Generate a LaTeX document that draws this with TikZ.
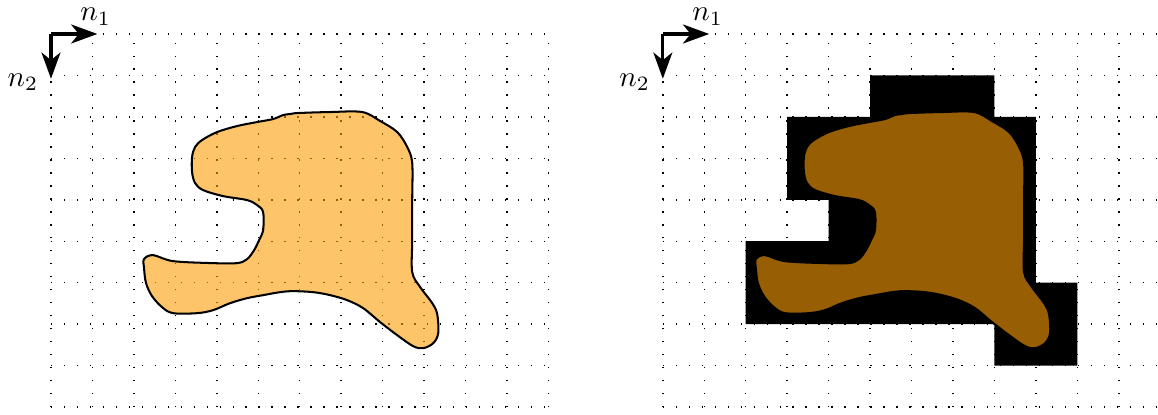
\documentclass[tikz,border=0pt]{standalone}
\usetikzlibrary{arrows.meta}
\definecolor{blobfill}{RGB}{252,157,7}
\tikzset{
  gridstyle/.style={line width=0.5pt, dash pattern=on 0.5pt off 3.95pt},
  axisarrow/.style={line width=1.1pt, -{Stealth[length=9pt,width=6.5pt,inset=2.6pt]}},
  blobstyle/.style={draw=black, line width=0.7pt, fill=blobfill, fill opacity=0.6},
  cellstyle/.style={fill=black},
}
\newcommand\blobshape{%
  plot[smooth cycle, tension=0.55] coordinates {
    (247,79) (279,78) (311,78) (329,87) (346,98) (356,113) (361,129)
    (361,166) (361,206) (361,238) (369,253) (381,269) (386,280) (387,299)
    (382,309) (372,314) (362,312) (346,301) (329,288) (312,274) (296,266)
    (279,261) (262,258) (242,257) (229,258) (212,261) (196,264) (179,269)
    (162,276) (146,279) (122,279) (111,273) (101,262) (95,249) (93,234)
    (93,225) (102,221) (122,227) (162,229) (186,229) (196,225) (203,216)
    (208,206) (212,196) (212,178) (206,171) (196,166) (172,162) (152,156)
    (144,149) (141,138) (141,123) (144,113) (151,106) (166,98) (186,92)
    (206,88) (222,85) (232,81) (239,80)}}
\begin{document}
\begin{tikzpicture}
\useasboundingbox (-0.615,-4.584) rectangle (13.353,0.41);
% ---------- left panel ----------
\begin{scope}
  \draw[gridstyle] (0,0) grid[step=0.5] (6,-4.5);
  \begin{scope}[x=0.012063cm, y=-0.012063cm]
    \path[blobstyle] \blobshape;
  \end{scope}
  \coordinate (lo) at (0,0);
  \coordinate (le1) at (0.56,0);
  \coordinate (le2) at (0,-0.54);
  \draw[axisarrow] (lo) -- (le1);
  \draw[axisarrow] (lo) -- (le2);
  \node (ln1) at (0.54,0.21) {$n_1$};
  \node (ln2) at (-0.34,-0.58) {$n_2$};
\end{scope}
% ---------- right panel ----------
\begin{scope}[shift={(7.38,0)}]
  \draw[gridstyle] (0,0) grid[step=0.5] (6,-4.5);
  \fill[cellstyle] (2.5,-0.5) -- (4.0,-0.5) -- (4.0,-1.0) -- (4.5,-1.0)
    -- (4.5,-3.0) -- (5.0,-3.0) -- (5.0,-4.0) -- (4.0,-4.0) -- (4.0,-3.5)
    -- (1.0,-3.5) -- (1.0,-2.5) -- (2.0,-2.5) -- (2.0,-2.0) -- (1.5,-2.0)
    -- (1.5,-1.0) -- (2.5,-1.0) -- cycle;
  \begin{scope}[x=0.012063cm, y=-0.012063cm]
    \path[blobstyle] \blobshape;
  \end{scope}
  \coordinate (ro) at (0,0);
  \coordinate (re1) at (0.56,0);
  \coordinate (re2) at (0,-0.54);
  \draw[axisarrow] (ro) -- (re1);
  \draw[axisarrow] (ro) -- (re2);
  \node (rn1) at (0.54,0.21) {$n_1$};
  \node (rn2) at (-0.34,-0.58) {$n_2$};
\end{scope}
\end{tikzpicture}
\end{document}
